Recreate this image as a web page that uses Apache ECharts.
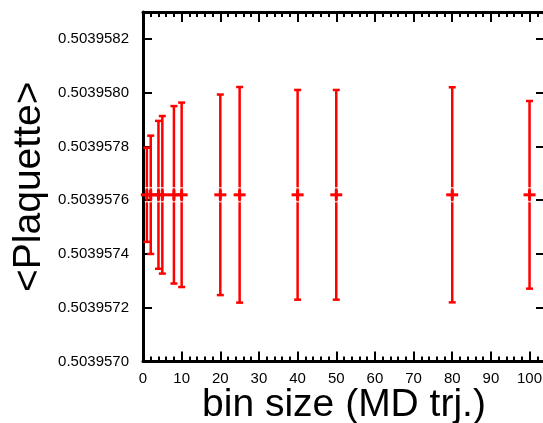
<!DOCTYPE html>
<html>
<head>
<meta charset="utf-8">
<script src="https://cdn.jsdelivr.net/npm/echarts@6/dist/echarts.min.js"></script>
<style>
html,body{margin:0;padding:0;background:#fff;}
#c{width:543px;height:423px;}
</style>
</head>
<body>
<div id="c"></div>
<script>
// Data
var binSizes = [1, 2, 4, 5, 8, 10, 20, 25, 40, 50, 80, 100];
var plaquetteMean = [0.50395762, 0.50395762, 0.50395762, 0.50395762, 0.50395762, 0.50395762,
                     0.50395762, 0.50395762, 0.50395762, 0.50395762, 0.50395762, 0.50395762];
var plaquetteErr = [1.75e-7, 2.2e-7, 2.75e-7, 2.93e-7, 3.3e-7, 3.43e-7,
                    3.73e-7, 4.01e-7, 3.9e-7, 3.9e-7, 4.0e-7, 3.49e-7];
var xTicks = [0, 10, 20, 30, 40, 50, 60, 70, 80, 90, 100];
var yTicks = ['0.5039570', '0.5039572', '0.5039574', '0.5039576', '0.5039578', '0.5039580', '0.5039582'];

var yMin = Number(yTicks[0]);
var yStep = Number(yTicks[1]) - Number(yTicks[0]);
var xStep = xTicks[1] - xTicks[0];

var data = binSizes.map(function (b, i) { return [b, plaquetteMean[i], plaquetteErr[i]]; });

var RED = '#ff0000';
var FONT = 'Liberation Sans, Arial, Helvetica, sans-serif';

function renderItem(params, api) {
  var x = api.value(0), m = api.value(1), e = api.value(2);
  var top = api.coord([x, m + e]);
  var bot = api.coord([x, m - e]);
  var c = api.coord([x, m]);
  var cap = 3.5, arm = 6;
  var st = { stroke: RED, lineWidth: 2.5 };
  return {
    type: 'group',
    children: [
      { type: 'line', shape: { x1: top[0], y1: top[1], x2: bot[0], y2: bot[1] }, style: st },
      { type: 'line', shape: { x1: top[0] - cap, y1: top[1], x2: top[0] + cap, y2: top[1] }, style: st },
      { type: 'line', shape: { x1: bot[0] - cap, y1: bot[1], x2: bot[0] + cap, y2: bot[1] }, style: st },
      { type: 'line', shape: { x1: c[0] - 2, y1: c[1] - arm - 1, x2: c[0] + 2, y2: c[1] - arm - 1 }, style: { stroke: '#fff', lineWidth: 1 } },
      { type: 'line', shape: { x1: c[0] - 2, y1: c[1] + arm + 1, x2: c[0] + 2, y2: c[1] + arm + 1 }, style: { stroke: '#fff', lineWidth: 1 } },
      { type: 'line', shape: { x1: c[0] - arm, y1: c[1], x2: c[0] + arm, y2: c[1] }, style: { stroke: RED, lineWidth: 3 } },
      { type: 'line', shape: { x1: c[0], y1: c[1] - arm + 1, x2: c[0], y2: c[1] + arm - 1 }, style: { stroke: RED, lineWidth: 3 } }
    ]
  };
}

var axisLine = { show: true, onZero: false, lineStyle: { color: '#000', width: 3 } };
var chart = echarts.init(document.getElementById('c'), null, { renderer: 'canvas' });
chart.setOption({
  animation: false,
  backgroundColor: '#fff',
  grid: { left: 143, top: 12, right: -2, bottom: 61.5, containLabel: false, outerBoundsMode: 'none' },
  xAxis: [{
    type: 'value', min: 0, max: 104, interval: xStep,
    position: 'bottom',
    axisLine: axisLine,
    axisTick: { inside: true, length: 10, lineStyle: { color: '#000', width: 2 } },
    minorTick: { show: true, splitNumber: 5, length: 5, lineStyle: { color: '#000', width: 2 } },
    splitLine: { show: false },
    axisLabel: { color: '#000', fontSize: 15, fontFamily: FONT, margin: 10, showMaxLabel: false,
      formatter: function (v) { return xTicks.indexOf(v) >= 0 ? String(v) : ''; } },
    name: 'bin size (MD trj.)', nameLocation: 'middle', nameGap: 24, nameMoveOverlap: false,
    nameTextStyle: { color: '#000', fontSize: 39, fontFamily: FONT }
  }, {
    type: 'value', min: 0, max: 104, interval: xStep,
    position: 'top',
    axisLine: axisLine,
    axisTick: { inside: true, length: 10, lineStyle: { color: '#000', width: 2 } },
    minorTick: { show: true, splitNumber: 5, length: 5, lineStyle: { color: '#000', width: 2 } },
    splitLine: { show: false },
    axisLabel: { show: false }
  }],
  yAxis: [{
    type: 'value', min: yMin, max: 0.5039583, interval: yStep,
    position: 'left', scale: true,
    axisLine: axisLine,
    axisTick: { inside: true, length: 9, lineStyle: { color: '#000', width: 2 } },
    splitLine: { show: false },
    axisLabel: { color: '#000', fontSize: 15, fontFamily: FONT, margin: 14, showMaxLabel: false,
      padding: [4, 0, 0, 0],
      formatter: function (v) { return v.toFixed(7); } },
    name: '<Plaquette>', nameLocation: 'middle', nameGap: 94, nameRotate: 90, nameMoveOverlap: false,
    nameTextStyle: { color: '#000', fontSize: 39, fontFamily: FONT }
  }, {
    type: 'value', min: yMin, max: 0.5039583, interval: yStep,
    position: 'right', scale: true,
    axisLine: axisLine,
    axisTick: { inside: true, length: 9, lineStyle: { color: '#000', width: 2 } },
    splitLine: { show: false },
    axisLabel: { show: false }
  }],
  series: [{
    type: 'custom',
    xAxisIndex: 0, yAxisIndex: 0,
    renderItem: renderItem,
    encode: { x: 0, y: [1] },
    data: data,
    clip: false
  }]
});
</script>
</body>
</html>
